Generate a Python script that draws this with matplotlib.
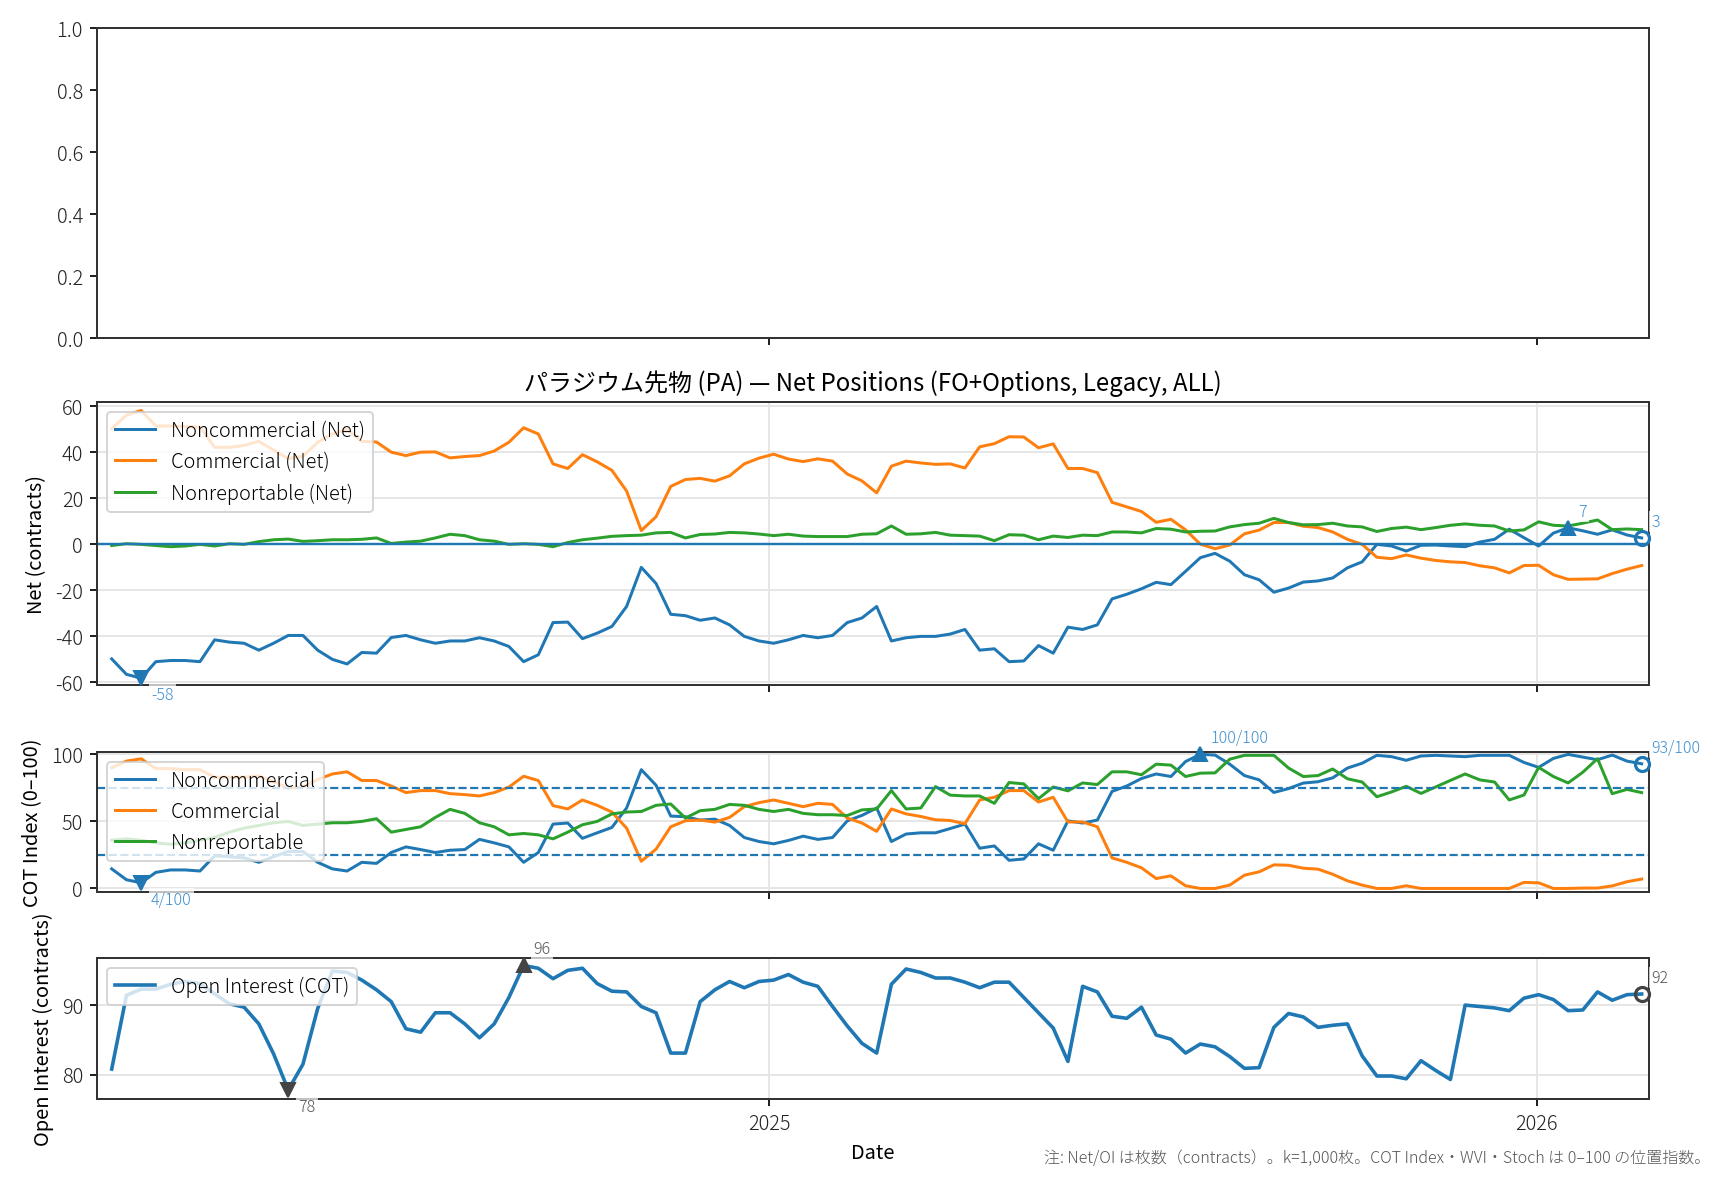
import numpy as np
import pandas as pd
import matplotlib
matplotlib.use("Agg")
import matplotlib.pyplot as plt
import matplotlib.dates as mdates

plt.rcParams['font.family'] = ['Noto Sans CJK JP', 'DejaVu Sans']
plt.rcParams['font.weight'] = 'light'
plt.rcParams['axes.unicode_minus'] = False
plt.rcParams['font.size'] = 10

# ---------------- data ----------------
dates = pd.date_range('2024-02-23', periods=105, freq='7D')

nc_net = [-49.8, -56.5, -58.2, -51, -50.5, -50.5, -51, -41.5, -42.5, -43,
          -46, -43, -39.6, -39.6, -46, -50, -52, -47, -47.3, -40.5,
          -39.6, -41.5, -43, -42, -42, -40.6, -42, -44.4, -51, -48,
          -34, -33.8, -41, -38.6, -35.7, -27, -10, -17, -30.4, -31,
          -33, -32, -35, -40, -42, -43, -41.5, -39.6, -40.6, -39.6,
          -34, -32, -27, -42, -40.6, -40, -40, -39, -37, -46,
          -45.4, -51, -50.7, -44, -47.3, -36, -37, -35, -23.7, -21.7,
          -19.3, -16.5, -17.5, -11.7, -5.8, -3.9, -7.3, -13.2, -15.4, -20.8,
          -19, -16.4, -15.9, -14.6, -10.2, -7.6, 0, -0.7, -2.9, -0.4,
          -0.3, -0.7, -1.0, 1.0, 2.2, 6.6, 2.9, -0.7, 4.9, 7.2,
          5.9, 4.4, 6.3, 4.1, 2.8]

cm_net = [50.3, 56.2, 58.2, 51.5, 51.5, 51.2, 51, 42.2, 42.2, 43,
          44.8, 41, 37.3, 38.3, 44.4, 48, 50, 44.8, 44.5, 40.1,
          38.6, 40.1, 40.2, 37.6, 38.2, 38.6, 40.6, 44.4, 50.7, 48,
          35, 33, 39, 35.9, 32.2, 23.2, 6, 12, 25.2, 28.2,
          28.7, 27.5, 29.8, 35, 37.5, 39.2, 37.1, 36, 37.2, 36.2,
          30.6, 27.6, 22.4, 34, 36.2, 35.4, 34.8, 35, 33.2, 42.4,
          43.8, 46.8, 46.7, 42, 43.7, 33, 33, 31.2, 18.3, 16.3,
          14.3, 9.6, 10.9, 6.3, 0.1, -1.9, -0.3, 4.6, 6.2, 9.5,
          9.5, 7.9, 7.3, 5.4, 2.2, 0, -5.6, -6.2, -4.6, -6.0,
          -7.0, -7.6, -7.9, -9.3, -10.2, -12.4, -9.2, -9.1, -13.2, -15.2,
          -15.1, -15.0, -12.7, -10.8, -9.2]

nr_net = [-0.5, 0.3, 0, -0.5, -1, -0.7, 0, -0.7, 0.3, 0,
          1.2, 2, 2.3, 1.3, 1.6, 2, 2, 2.2, 2.8, 0.4,
          1, 1.4, 2.8, 4.4, 3.8, 2, 1.4, 0, 0.3, 0,
          -1, 0.8, 2, 2.7, 3.5, 3.8, 4, 5, 5.2, 2.8,
          4.3, 4.5, 5.2, 5, 4.5, 3.8, 4.4, 3.6, 3.4, 3.4,
          3.4, 4.4, 4.6, 8, 4.4, 4.6, 5.2, 4, 3.8, 3.6,
          1.6, 4.2, 4, 2, 3.6, 3, 4, 3.8, 5.4, 5.4,
          5, 6.9, 6.6, 5.4, 5.7, 5.8, 7.6, 8.6, 9.2, 11.3,
          9.5, 8.5, 8.6, 9.2, 8.0, 7.6, 5.6, 6.9, 7.5, 6.4,
          7.3, 8.3, 8.9, 8.3, 8.0, 5.8, 6.3, 9.8, 8.3, 8.0,
          9.2, 10.6, 6.4, 6.7, 6.4]

nc_idx = [14.6, 6.5, 4.2, 12, 13.8, 13.8, 13, 24.4, 23.6, 22.8,
          19.5, 23.6, 27.6, 27.6, 19.5, 14.6, 13, 19.5, 18.7, 26.8,
          31, 29, 26.8, 28.5, 29, 36.6, 34, 31, 19.5, 26.8,
          48, 48.8, 37.4, 41.5, 45.5, 60, 88.6, 77, 54, 53.5,
          51, 51.7, 47, 38, 35, 33.3, 35.8, 39, 36.6, 38,
          50.4, 54.5, 60, 35, 40.6, 41.5, 41.5, 44.7, 48, 30,
          31.7, 21, 22, 33.3, 28.5, 50.4, 48.8, 51, 72.4, 76.4,
          82, 85.4, 83.5, 94.7, 100, 99.5, 92.7, 84.2, 81, 71.6,
          74.5, 78.6, 79.6, 82.5, 89.8, 93.4, 99.3, 98.3, 95.6, 98.8,
          99.3, 98.8, 98.3, 99.3, 99.3, 99.3, 94, 90.3, 97, 100,
          98, 96, 99.5, 95, 93]

cm_idx = [90, 95, 96.7, 89.4, 89.4, 88.6, 88.6, 83, 83, 83,
          84, 79.7, 74.8, 75.6, 81.3, 85.4, 87, 80.5, 80.5, 76.4,
          71.5, 73, 73, 70.7, 70, 69, 71.5, 75.6, 83.7, 80.5,
          61.8, 59.3, 66, 62, 57, 45, 20.3, 29.3, 46, 50.5,
          51, 49.5, 53, 61, 64, 66, 63.5, 61, 63.5, 62.7,
          52.5, 48.8, 42.6, 59.3, 55.6, 53.7, 51.2, 50.7, 48.3, 66,
          68, 73, 73, 64.5, 68, 49.6, 49.6, 46, 22.8, 19.5,
          15.4, 7.4, 9.4, 2, 0, 0, 2.5, 9.9, 12.4, 17.6,
          17.3, 15.1, 14.4, 10.6, 5.7, 2.5, 0, 0, 2, 0,
          0, 0, 0, 0, 0, 0, 4.5, 4.2, 0, 0,
          0.3, 0.3, 1.9, 5, 7]

nr_idx = [36, 37, 36, 34, 33, 34, 36, 38, 42, 45,
          47, 49, 50, 47, 48, 49, 49, 50, 52, 42,
          44, 46, 53, 59, 56, 49, 46, 40, 41, 40,
          37, 42, 47.5, 50, 55.6, 57, 57.4, 62, 63, 52.5,
          58, 59, 62.7, 62, 59, 57.4, 59, 56, 55, 55,
          54.4, 58.6, 59.3, 73, 59.3, 60, 76, 69.6, 69, 69,
          63.5, 79, 78, 67, 75.7, 72.8, 78.7, 77.5, 87, 87,
          84.8, 92.7, 92, 83.5, 86, 86.2, 96.4, 99.3, 99.3, 99.3,
          89.8, 83.5, 84.2, 89.1, 81.8, 79.4, 68.4, 72, 76.2, 70.9,
          75.7, 80.6, 85.4, 81, 79.4, 66, 69.7, 90.3, 83.5, 78.7,
          86.7, 96.8, 70.7, 73.9, 71.5]

oi = [80.8, 91.4, 92.3, 92.3, 93.0, 93.4, 93.1, 91.6, 90.2, 89.7,
      87.3, 83.0, 77.8, 81.5, 89.5, 94.9, 94.7, 93.6, 92.2, 90.5,
      86.6, 86.1, 88.9, 88.9, 87.3, 85.3, 87.3, 91.1, 95.7, 95.3,
      93.8, 95.0, 95.3, 93.1, 92.0, 91.9, 89.8, 88.9, 83.1, 83.1,
      90.5, 92.2, 93.4, 92.5, 93.4, 93.6, 94.4, 93.3, 92.7, 89.8,
      87.0, 84.5, 83.1, 93.0, 95.2, 94.7, 93.9, 93.9, 93.3, 92.5,
      93.3, 93.3, 91.1, 88.9, 86.7, 81.9, 92.7, 91.9, 88.4, 88.1,
      89.7, 85.7, 85.1, 83.1, 84.4, 84.0, 82.6, 80.9, 81.0, 86.8,
      88.8, 88.3, 86.8, 87.1, 87.3, 82.7, 79.8, 79.8, 79.4, 82.0,
      80.6, 79.3, 90.0, 89.8, 89.6, 89.2, 91.0, 91.5, 90.8, 89.2,
      89.3, 91.9, 90.7, 91.5, 91.6]

title = "パラジウム先物 (PA) — Net Positions (FO+Options, Legacy, ALL)"
note = "注: Net/OI は枚数（contracts）。k=1,000枚。COT Index・WVI・Stoch は 0–100 の位置指数。"

C0, C1, C2 = '#1f77b4', '#ff7f0e', '#2ca02c'
GRID = '#e6e6e6'
SPINE = '#333333'

# ---------------- figure ----------------
W, H = 1728, 1180
fig = plt.figure(figsize=(12, 8.2), dpi=144)

def rect(top, bottom, left=97, right=1649):
    return [left / W, 1 - bottom / H, (right - left) / W, (bottom - top) / H]

ax1 = fig.add_axes(rect(29, 339))
ax2 = fig.add_axes(rect(403, 685), sharex=ax1)
ax3 = fig.add_axes(rect(752, 892), sharex=ax1)
ax4 = fig.add_axes(rect(958, 1099), sharex=ax1)

for ax in (ax1, ax2, ax3, ax4):
    for s in ax.spines.values():
        s.set_color(SPINE)
        s.set_linewidth(1.0)
    ax.tick_params(colors='#222222', length=3.5, width=1.0)
    ax.set_axisbelow(True)
for ax in (ax2, ax3, ax4):
    ax.grid(True, color=GRID, lw=1.0)

for ax in (ax1, ax2, ax3):
    ax.tick_params(labelbottom=False)

LW = 1.5
bbox = dict(boxstyle='square,pad=0.15', fc='white', ec='none', alpha=0.7)

def mark(ax, i, vals, kind, fmt, mcol, tcol):
    d, y = dates[i], vals[i]
    if kind == 'last':
        ax.plot([d], [y], marker='o', ms=7, mfc='none', mec=mcol, mew=1.6,
                ls='none', zorder=6, clip_on=False)
    else:
        ax.plot([d], [y], marker='^' if kind == 'max' else 'v', ms=7,
                color=mcol, ls='none', zorder=6, clip_on=False)
    dy = -4 if kind == 'min' else 4
    ax.annotate(fmt(y), (d, y), xytext=(5, dy), textcoords='offset points',
                ha='left', va='top' if kind == 'min' else 'bottom',
                fontsize=8, color=tcol, bbox=bbox, annotation_clip=False,
                zorder=7)

# top empty panel
ax1.set_ylim(0, 1)

# net positions
ax2.plot(dates, nc_net, color=C0, lw=LW, label='Noncommercial (Net)')
ax2.plot(dates, cm_net, color=C1, lw=LW, label='Commercial (Net)')
ax2.plot(dates, nr_net, color=C2, lw=LW, label='Nonreportable (Net)')
ax2.axhline(0, color=C0, lw=1.2)
ax2.set_ylim(-61, 61.7)
ax2.set_yticks([-60, -40, -20, 0, 20, 40, 60])
ax2.set_ylabel('Net (contracts)')
ax2.set_title(title, fontsize=12, pad=6)
ax2.legend(loc='upper left', fontsize=10)
nc_arr = np.array(nc_net)
tcol = '#3f8fd0'
mark(ax2, int(np.argmin(nc_arr)), nc_arr, 'min', lambda v: f"{v:.0f}", C0, tcol)
mark(ax2, int(np.argmax(nc_arr)), nc_arr, 'max', lambda v: f"{v:.0f}", C0, tcol)
mark(ax2, len(nc_arr) - 1, nc_arr, 'last', lambda v: f"{v:.0f}", C0, tcol)

# COT index
ax3.plot(dates, nc_idx, color=C0, lw=LW, label='Noncommercial')
ax3.plot(dates, cm_idx, color=C1, lw=LW, label='Commercial')
ax3.plot(dates, nr_idx, color=C2, lw=LW, label='Nonreportable')
ax3.axhline(75, color=C0, lw=1.1, ls='--')
ax3.axhline(25, color=C0, lw=1.1, ls='--')
ax3.set_ylim(-2.5, 102)
ax3.set_yticks([0, 50, 100])
ax3.set_ylabel('COT Index (0–100)')
ax3.legend(loc='upper left', fontsize=10)
ci = np.array(nc_idx)
f2 = lambda v: f"{v:.0f}/100"
mark(ax3, int(np.argmin(ci)), ci, 'min', f2, C0, tcol)
mark(ax3, int(np.argmax(ci)), ci, 'max', f2, C0, tcol)
mark(ax3, len(ci) - 1, ci, 'last', f2, C0, tcol)

# open interest
ax4.plot(dates, oi, color=C0, lw=LW + 0.3, label='Open Interest (COT)')
ax4.set_ylim(76.5, 96.8)
ax4.set_yticks([80, 90])
ax4.set_ylabel('Open Interest (contracts)')
ax4.set_xlabel('Date')
ax4.legend(loc='upper left', fontsize=10)
oa = np.array(oi)
GR = '#444444'
mark(ax4, int(np.argmax(oa)), oa, 'max', lambda v: f"{v:.0f}", GR, '#555555')
mark(ax4, int(np.argmin(oa)), oa, 'min', lambda v: f"{v:.0f}", GR, '#555555')
mark(ax4, len(oa) - 1, oa, 'last', lambda v: f"{v:.0f}", GR, '#555555')

ax4.xaxis.set_major_locator(mdates.YearLocator())
ax4.xaxis.set_major_formatter(mdates.DateFormatter('%Y'))
ax4.set_xlim(dates[0] - pd.Timedelta(days=7), dates[-1] + pd.Timedelta(days=3.5))

fig.align_ylabels([ax2, ax3, ax4])
fig.text(0.99, 0.012, note, ha='right', va='bottom', fontsize=8, color='#555555')

fig.savefig('out.png', dpi=144)
